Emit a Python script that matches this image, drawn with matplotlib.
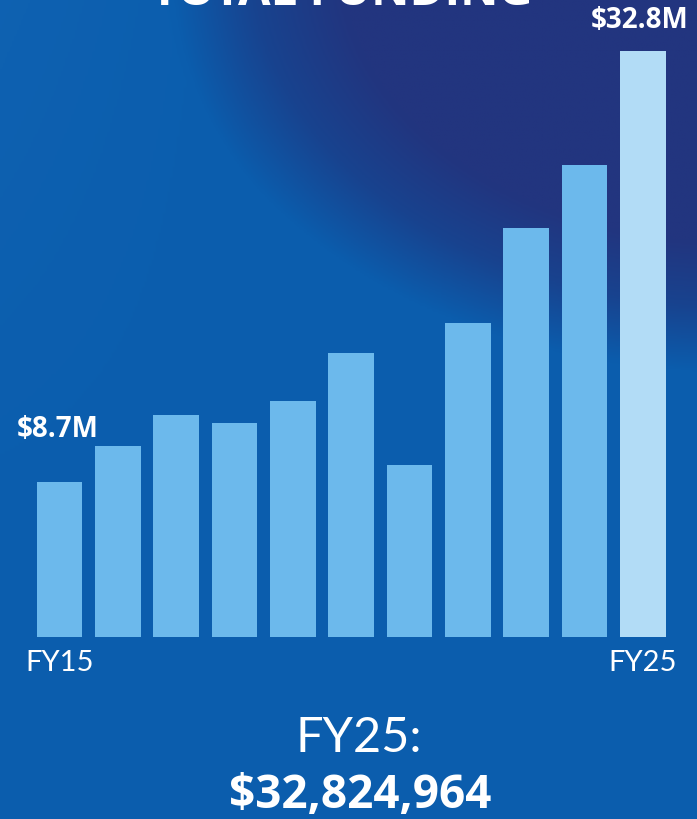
import numpy as np
import matplotlib.pyplot as plt
from matplotlib.colors import LinearSegmentedColormap

years = ["FY15", "FY16", "FY17", "FY18", "FY19", "FY20", "FY21", "FY22", "FY23", "FY24", "FY25"]
funding = [8.7, 10.7, 12.4, 12.0, 13.2, 15.9, 9.6, 17.6, 22.9, 26.4, 32.8]
bar_colors = ["#6cb9ec"] * 10 + ["#b2dcf6"]

W, H = 697, 819
fig = plt.figure(figsize=(W / 100, H / 100), dpi=100)

# background: medium blue, navy patch in the upper right
bg = fig.add_axes([0, 0, 1, 1])
yy, xx = np.mgrid[0:1:300j, 0:1:300j]   # yy = 0 at top
d = np.sqrt(((xx - 1.05) / 0.78) ** 2 + ((yy + 0.05) / 0.48) ** 2)
t = np.clip((1.05 - d) * 3.0, 0, 1)
left = np.clip((0.35 - xx) * 1.5, 0, 1) * np.clip((0.7 - yy), 0, 1)
shade = np.clip(t * 0.67 + 0.33 - 0.33 * left, 0, 1)
cmap = LinearSegmentedColormap.from_list("bg", ["#1469b8", "#0b5dad", "#18438f", "#22357f"])
bg.imshow(shade, cmap=cmap, extent=[0, 1, 0, 1], origin="upper", aspect="auto", vmin=0, vmax=1)
bg.set_xlim(0, 1)
bg.set_ylim(0, 1)
bg.axis("off")

ax = fig.add_axes([0, 182 / H, 1, 1 - 182 / H])
ax.patch.set_alpha(0)
x = np.arange(len(years))
ax.bar(x, funding, width=0.78, color=bar_colors)
ax.set_xlim(-1.02, 10.93)
ax.set_ylim(0, 35.65)
ax.axis("off")

ax.text(x[0] - 0.03, funding[0] + 2.1, "$8.7M", ha="center", va="bottom",
        color="white", fontsize=20, fontweight="bold", family="Open Sans")
ax.text(x[-1] - 0.05, funding[-1] + 0.9, "$32.8M", ha="center", va="bottom",
        color="white", fontsize=20, fontweight="bold", family="Open Sans")

ax.text(x[0], -0.75, years[0], ha="center", va="top", color="white",
        fontsize=21, fontweight="normal", family="Lato")
ax.text(x[-1], -0.75, years[-1], ha="center", va="top", color="white",
        fontsize=21, fontweight="normal", family="Lato")

fig.text(0.49, 1 - 5 / H, "TOTAL FUNDING", ha="center", va="baseline",
         color="white", fontsize=34, fontweight="bold", family="Open Sans")
fig.text(0.515, 1 - 752 / H, "FY25:", ha="center", va="baseline",
         color="white", fontsize=35, fontweight="normal", family="Lato")
fig.text(0.517, 1 - 808 / H, "$32,824,964", ha="center", va="baseline",
         color="white", fontsize=33, fontweight="bold", family="Open Sans")

fig.savefig("out.png", dpi=100)
